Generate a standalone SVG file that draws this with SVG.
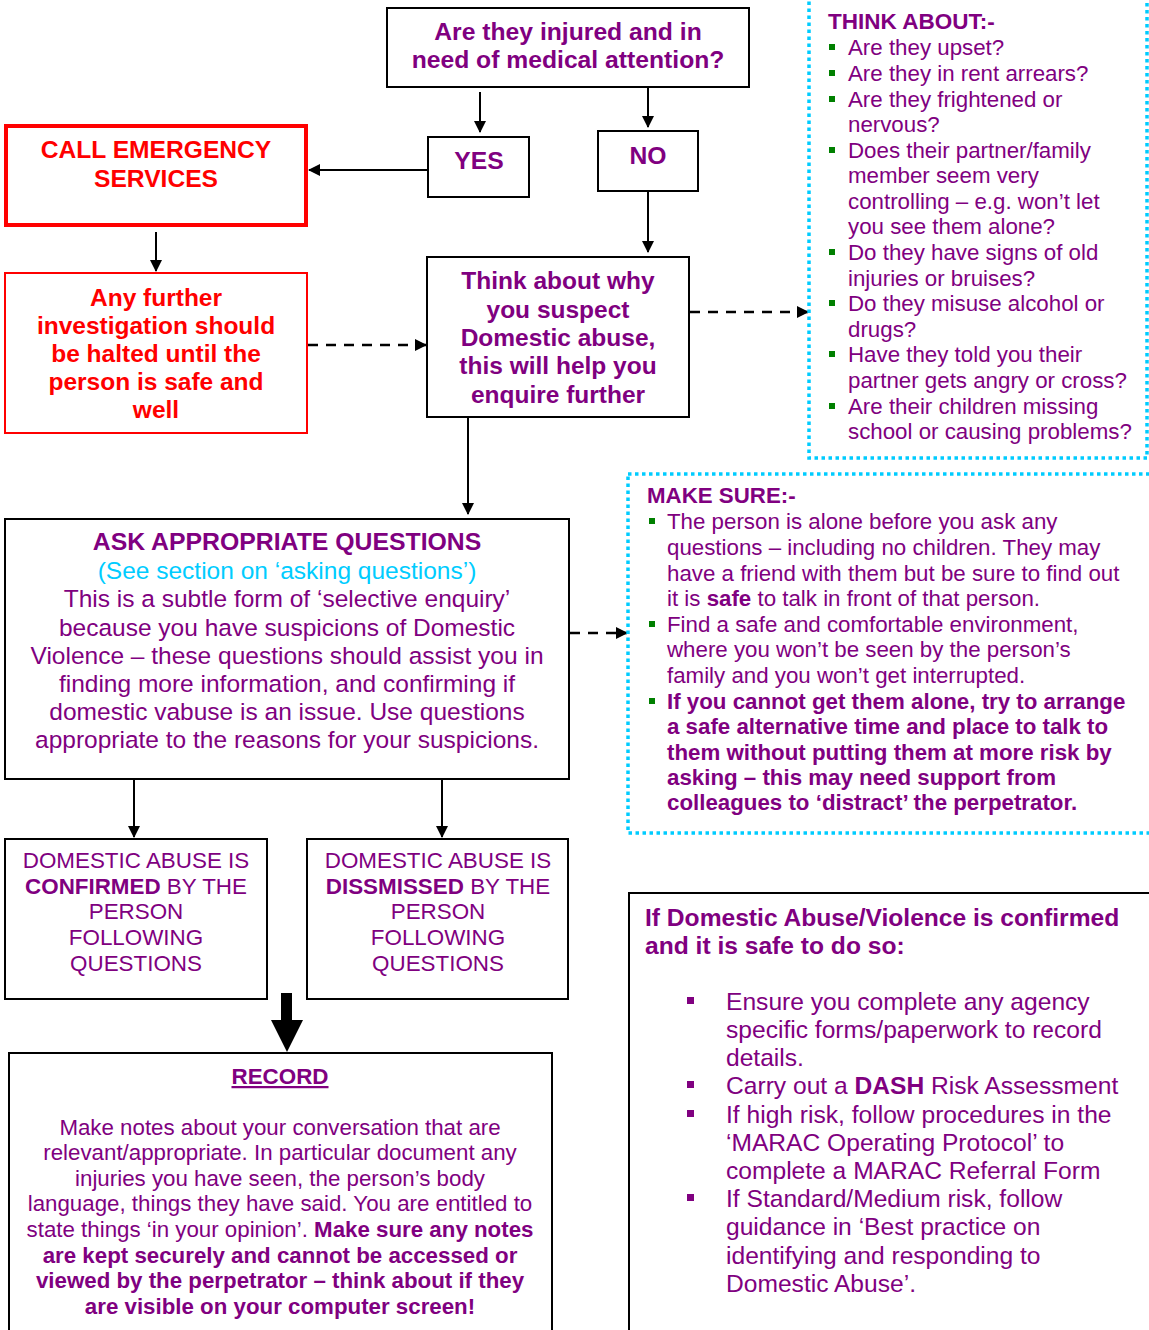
<svg xmlns="http://www.w3.org/2000/svg" width="1149" height="1330" viewBox="0 0 1149 1330">
<style>
text{font-family:"Liberation Sans",Arial,sans-serif;fill:#800080}
.b{font-weight:bold}
.c{text-anchor:middle}
.red{fill:#FF0000}
.box{fill:#fff;stroke:#000;stroke-width:2}
.dot{fill:#fff;stroke:#00CCFF;stroke-width:3.5;stroke-dasharray:3.5 3.5}
.ln{stroke:#000;stroke-width:2;fill:none}
.dash{stroke:#000;stroke-width:2.5;fill:none;stroke-dasharray:10 8}
.gb{fill:#008000}
.pb{fill:#800080}
</style>
<defs>
<marker id="ah" markerWidth="12" markerHeight="12" refX="11" refY="6" orient="auto" markerUnits="userSpaceOnUse">
<path d="M0,0 L12,6 L0,12 Z" fill="#000"/>
</marker>
</defs>
<rect width="1149" height="1330" fill="#fff"/>

<g id="connectors">
<line class="ln" x1="480" y1="92" x2="480" y2="132" marker-end="url(#ah)"/>
<line class="ln" x1="648" y1="88" x2="648" y2="127" marker-end="url(#ah)"/>
<line class="ln" x1="648" y1="191" x2="648" y2="252" marker-end="url(#ah)"/>
<line class="ln" x1="428" y1="170" x2="309" y2="170" marker-end="url(#ah)"/>
<line class="ln" x1="156" y1="232" x2="156" y2="271" marker-end="url(#ah)"/>
<line class="dash" x1="308" y1="345" x2="426" y2="345" marker-end="url(#ah)"/>
<line class="dash" x1="690" y1="312" x2="808" y2="312" marker-end="url(#ah)"/>
<line class="ln" x1="468" y1="418" x2="468" y2="514" marker-end="url(#ah)"/>
<line class="dash" x1="570" y1="633" x2="627" y2="633" marker-end="url(#ah)"/>
<line class="ln" x1="134" y1="780" x2="134" y2="837" marker-end="url(#ah)"/>
<line class="ln" x1="442" y1="780" x2="442" y2="837" marker-end="url(#ah)"/>
<path d="M281,993 L292,993 L292,1020 L303,1020 L287,1052 L271,1020 L281,1020 Z" fill="#000"/>
</g>

<g id="q-injured">
<rect class="box" x="387" y="8" width="362" height="79"/>
<text class="b c" x="568" y="40" font-size="24.7">Are they injured and in</text>
<text class="b c" x="568" y="68" font-size="24.7">need of medical attention?</text>
</g>

<g id="yes">
<rect class="box" x="428" y="137" width="101" height="60"/>
<text class="b c" x="479" y="169" font-size="24.7">YES</text>
</g>

<g id="no">
<rect class="box" x="598" y="131" width="100" height="60"/>
<text class="b c" x="648" y="164" font-size="24.7">NO</text>
</g>

<g id="call-emergency">
<rect x="6" y="126" width="300" height="99" fill="#fff" stroke="#FF0000" stroke-width="4"/>
<text class="b c red" x="156" y="158" font-size="24.6">CALL EMERGENCY</text>
<text class="b c red" x="156" y="187" font-size="24.6">SERVICES</text>
</g>

<g id="halted">
<rect x="5" y="273" width="302" height="160" fill="#fff" stroke="#FF0000" stroke-width="2"/>
<g font-size="24.5">
<text class="b c red" x="156" y="306">Any further</text>
<text class="b c red" x="156" y="334">investigation should</text>
<text class="b c red" x="156" y="362">be halted until the</text>
<text class="b c red" x="156" y="390">person is safe and</text>
<text class="b c red" x="156" y="418">well</text>
</g>
</g>

<g id="think-why">
<rect class="box" x="427" y="257" width="262" height="160"/>
<g font-size="24.5">
<text class="b c" x="558" y="289">Think about why</text>
<text class="b c" x="558" y="318">you suspect</text>
<text class="b c" x="558" y="346">Domestic abuse,</text>
<text class="b c" x="558" y="374">this will help you</text>
<text class="b c" x="558" y="403">enquire further</text>
</g>
</g>

<g id="think-about">
<rect class="dot" x="809" y="-2" width="338" height="460"/>
<text class="b" x="828" y="29" font-size="22.5">THINK ABOUT:-</text>
<g font-size="22.3">
<rect class="gb" x="829" y="44" width="6" height="6"/><text x="848" y="55">Are they upset?</text>
<rect class="gb" x="829" y="70" width="6" height="6"/><text x="848" y="81">Are they in rent arrears?</text>
<rect class="gb" x="829" y="96" width="6" height="6"/><text x="848" y="107">Are they frightened or</text>
<text x="848" y="132">nervous?</text>
<rect class="gb" x="829" y="147" width="6" height="6"/><text x="848" y="158">Does their partner/family</text>
<text x="848" y="183">member seem very</text>
<text x="848" y="209">controlling – e.g. won’t let</text>
<text x="848" y="234">you see them alone?</text>
<rect class="gb" x="829" y="249" width="6" height="6"/><text x="848" y="260">Do they have signs of old</text>
<text x="848" y="286">injuries or bruises?</text>
<rect class="gb" x="829" y="300" width="6" height="6"/><text x="848" y="311">Do they misuse alcohol or</text>
<text x="848" y="337">drugs?</text>
<rect class="gb" x="829" y="351" width="6" height="6"/><text x="848" y="362">Have they told you their</text>
<text x="848" y="388">partner gets angry or cross?</text>
<rect class="gb" x="829" y="403" width="6" height="6"/><text x="848" y="414">Are their children missing</text>
<text x="848" y="439">school or causing problems?</text>
</g>
</g>

<g id="make-sure">
<rect class="dot" x="628" y="474" width="526" height="359"/>
<text class="b" x="647" y="503" font-size="22.3">MAKE SURE:-</text>
<g font-size="22.3">
<rect class="gb" x="649" y="518" width="6" height="6"/><text x="667" y="529">The person is alone before you ask any</text>
<text x="667" y="555">questions – including no children. They may</text>
<text x="667" y="581">have a friend with them but be sure to find out</text>
<text x="667" y="606">it is <tspan class="b">safe</tspan> to talk in front of that person.</text>
<rect class="gb" x="649" y="621" width="6" height="6"/><text x="667" y="632">Find a safe and comfortable environment,</text>
<text x="667" y="657">where you won’t be seen by the person’s</text>
<text x="667" y="683">family and you won’t get interrupted.</text>
<rect class="gb" x="649" y="698" width="6" height="6"/><text class="b" x="667" y="709">If you cannot get them alone, try to arrange</text>
<text class="b" x="667" y="734">a safe alternative time and place to talk to</text>
<text class="b" x="667" y="760">them without putting them at more risk by</text>
<text class="b" x="667" y="785">asking – this may need support from</text>
<text class="b" x="667" y="810">colleagues to ‘distract’ the perpetrator.</text>
</g>
</g>

<g id="ask-questions">
<rect class="box" x="5" y="519" width="564" height="260"/>
<text class="b c" x="287" y="550" font-size="24.8">ASK APPROPRIATE QUESTIONS</text>
<text class="c" x="287" y="579" font-size="24.5" style="fill:#00CCFF">(See section on ‘asking questions’)</text>
<g font-size="24.5">
<text class="c" x="287" y="607">This is a subtle form of ‘selective enquiry’</text>
<text class="c" x="287" y="636">because you have suspicions of Domestic</text>
<text class="c" x="287" y="664">Violence – these questions should assist you in</text>
<text class="c" x="287" y="692">finding more information, and confirming if</text>
<text class="c" x="287" y="720">domestic vabuse is an issue. Use questions</text>
<text class="c" x="287" y="748">appropriate to the reasons for your suspicions.</text>
</g>
</g>

<g id="confirmed">
<rect class="box" x="5" y="839" width="262" height="160"/>
<g font-size="22.4">
<text class="c" x="136" y="868">DOMESTIC ABUSE IS</text>
<text class="c" x="136" y="894"><tspan class="b">CONFIRMED</tspan> BY THE</text>
<text class="c" x="136" y="919">PERSON</text>
<text class="c" x="136" y="945">FOLLOWING</text>
<text class="c" x="136" y="971">QUESTIONS</text>
</g>
</g>

<g id="dismissed">
<rect class="box" x="307" y="839" width="261" height="160"/>
<g font-size="22.4">
<text class="c" x="438" y="868">DOMESTIC ABUSE IS</text>
<text class="c" x="438" y="894"><tspan class="b">DISSMISSED</tspan> BY THE</text>
<text class="c" x="438" y="919">PERSON</text>
<text class="c" x="438" y="945">FOLLOWING</text>
<text class="c" x="438" y="971">QUESTIONS</text>
</g>
</g>

<g id="record">
<rect class="box" x="9" y="1053" width="543" height="290"/>
<text class="b c" x="280" y="1084" font-size="22.4" text-decoration="underline">RECORD</text>
<g font-size="22.3">
<text class="c" x="280" y="1135">Make notes about your conversation that are</text>
<text class="c" x="280" y="1160">relevant/appropriate. In particular document any</text>
<text class="c" x="280" y="1186">injuries you have seen, the person’s body</text>
<text class="c" x="280" y="1211">language, things they have said. You are entitled to</text>
<text class="c" x="280" y="1237">state things ‘in your opinion’. <tspan class="b">Make sure any notes</tspan></text>
<text class="b c" x="280" y="1263">are kept securely and cannot be accessed or</text>
<text class="b c" x="280" y="1288">viewed by the perpetrator – think about if they</text>
<text class="b c" x="280" y="1314">are visible on your computer screen!</text>
</g>
</g>

<g id="if-confirmed">
<rect class="box" x="629" y="893" width="530" height="450"/>
<text class="b" x="645" y="926" font-size="24.6">If Domestic Abuse/Violence is confirmed</text>
<text class="b" x="645" y="954" font-size="24.6">and it is safe to do so:</text>
<g font-size="24.6">
<rect class="pb" x="687" y="997" width="7" height="7"/><text x="726" y="1010">Ensure you complete any agency</text>
<text x="726" y="1038">specific forms/paperwork to record</text>
<text x="726" y="1066">details.</text>
<rect class="pb" x="687" y="1081" width="7" height="7"/><text x="726" y="1094">Carry out a <tspan class="b">DASH</tspan> Risk Assessment</text>
<rect class="pb" x="687" y="1110" width="7" height="7"/><text x="726" y="1123">If high risk, follow procedures in the</text>
<text x="726" y="1151">‘MARAC Operating Protocol’ to</text>
<text x="726" y="1179">complete a MARAC Referral Form</text>
<rect class="pb" x="687" y="1194" width="7" height="7"/><text x="726" y="1207">If Standard/Medium risk, follow</text>
<text x="726" y="1235">guidance in ‘Best practice on</text>
<text x="726" y="1264">identifying and responding to</text>
<text x="726" y="1292">Domestic Abuse’.</text>
</g>
</g>
</svg>
